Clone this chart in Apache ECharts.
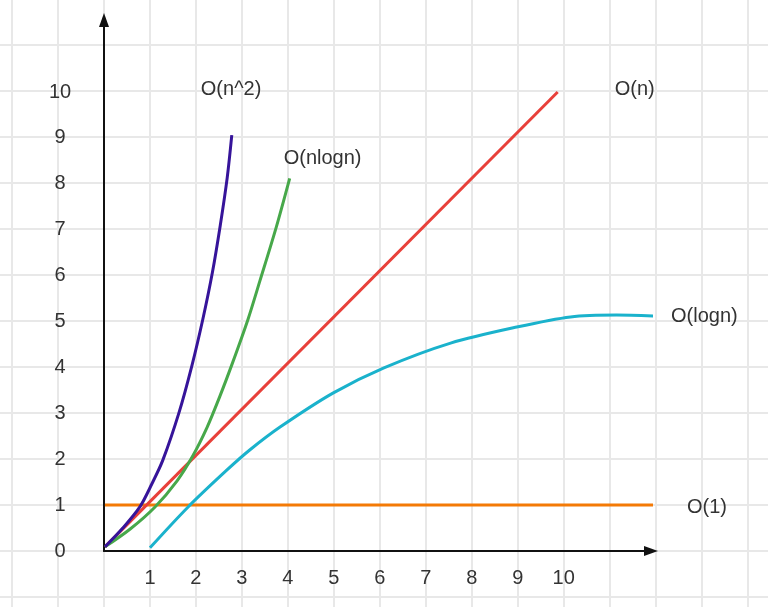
<!DOCTYPE html>
<html style="height: 100%">
<head>
<meta charset="utf-8">
<script src="https://cdn.jsdelivr.net/npm/echarts@6/dist/echarts.min.js"></script>
</head>
<body style="height: 100%; margin: 0; background-color: #fff;
  background-image: linear-gradient(to right, #e8e8e8 2px, transparent 2px), linear-gradient(to bottom, #e8e8e8 2px, transparent 2px);
  background-size: 46px 46px; background-position: 11px -2px;">
<div id="container" style="width: 768px; height: 607px"></div>
<script type="text/javascript">
// values, as [n, cost] pairs
var constantPts = [[0.02, 1], [11.98, 1]];
var logPts = [[1.0, 0.07], [1.83, 0.96], [2.67, 1.76], [3.17, 2.2], [3.83, 2.7], [4.98, 3.44],
              [6.09, 3.99], [7.54, 4.53], [8.98, 4.88], [10.15, 5.1], [11.15, 5.14], [12.0, 5.12]];
var linearPts = [[0.02, 0.09], [9.87, 10.0]];
var nlognPts = [[0.02, 0.09], [0.57, 0.48], [1.11, 0.96], [1.59, 1.53], [1.93, 2.07], [2.24, 2.69],
                [2.52, 3.37], [2.8, 4.11], [3.13, 5.04], [3.39, 5.88], [3.74, 7.03], [4.04, 8.12]];
var squarePts = [[0.02, 0.09], [0.41, 0.5], [0.78, 0.96], [1.04, 1.46], [1.28, 1.98], [1.63, 3.01],
                 [1.91, 4.03], [2.15, 5.05], [2.36, 6.08], [2.53, 7.1], [2.68, 8.13], [2.78, 9.06]];
var seriesNames = ['O(1)', 'O(logn)', 'O(n)', 'O(nlogn)', 'O(n^2)'];
var xTicks = [1, 2, 3, 4, 5, 6, 7, 8, 9, 10];
var yTicks = [0, 1, 2, 3, 4, 5, 6, 7, 8, 9, 10];

var font = 'Liberation Sans, Arial, sans-serif';
var myChart = echarts.init(document.getElementById('container'));

function line(name, pts, color, smooth, off) {
    return {
        name: name,
        type: 'line',
        data: pts,
        smooth: smooth,
        clip: false,
        symbol: 'none',
        lineStyle: { color: color, width: 3 },
        endLabel: {
            show: true,
            formatter: name,
            distance: 0,
            offset: off,
            color: '#333',
            fontSize: 20,
            fontFamily: font
        }
    };
}

var option = {
    animation: false,
    grid: { left: 104, top: 20, width: 547, height: 531 },
    xAxis: {
        type: 'value',
        min: 0,
        max: 11.9,
        interval: 1,
        axisLine: { onZero: true, lineStyle: { color: '#111', width: 2 }, symbol: ['none', 'triangle'], symbolSize: [10, 14] },
        axisTick: { show: false },
        splitLine: { show: false },
        axisLabel: {
            margin: 27,
            verticalAlign: 'middle',
            color: '#333',
            fontSize: 20,
            fontFamily: font,
            formatter: function (v) { return xTicks.indexOf(v) >= 0 ? String(v) : ''; }
        }
    },
    yAxis: {
        type: 'value',
        min: 0,
        max: 11.57,
        interval: 1,
        axisLine: { onZero: true, lineStyle: { color: '#111', width: 2 }, symbol: ['none', 'triangle'], symbolSize: [10, 14] },
        axisTick: { show: false },
        splitLine: { show: false },
        axisLabel: {
            margin: 44,
            align: 'center',
            color: '#333',
            fontSize: 20,
            fontFamily: font,
            formatter: function (v) { return yTicks.indexOf(v) >= 0 ? String(v) : ''; }
        }
    },
    series: [
        line(seriesNames[0], constantPts, '#f47a06', false, [34, 2]),
        line(seriesNames[1], logPts, '#1ab2cc', 0.3, [18, 1]),
        line(seriesNames[2], linearPts, '#e8403a', false, [57, -3]),
        line(seriesNames[3], nlognPts, '#47a84a', 0.3, [-6, -20]),
        line(seriesNames[4], squarePts, '#36149a', 0.3, [-31, -46])
    ]
};
myChart.setOption(option);
</script>
</body>
</html>
